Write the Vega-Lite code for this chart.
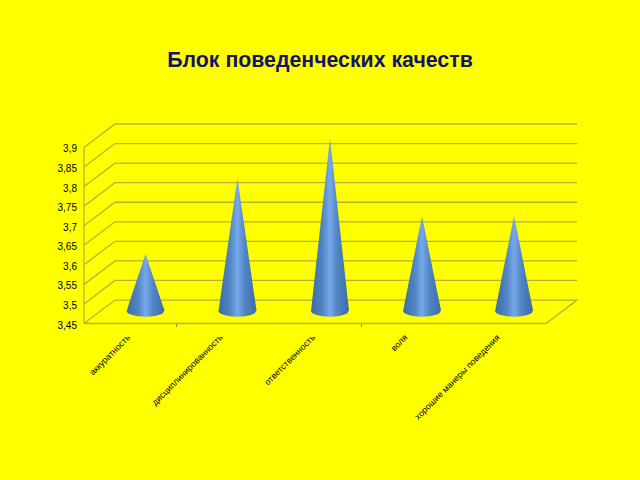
{
  "$schema": "https://vega.github.io/schema/vega-lite/v6.json",
  "width": 493,
  "height": 199.5,
  "autosize": "none",
  "padding": {"left": 84, "top": 124, "right": 63, "bottom": 156.5},
  "background": "#ffff00",
  "title": {
    "text": "Блок поведенческих качеств",
    "font": "Liberation Sans",
    "fontSize": 21.3,
    "fontWeight": "bold",
    "color": "#14146e",
    "anchor": "middle",
    "dx": -10.5,
    "offset": 50
  },
  "config": {"view": {"stroke": null}},
  "datasets": {
    "frame": [
      {"g": "f3.45", "x": 0, "y": 3.45}, {"g": "f3.45", "x": 0.335, "y": 3.51}, {"g": "f3.45", "x": 5.335, "y": 3.51}, {"g": "f3.45", "x": 5, "y": 3.45}, {"g": "f3.45", "x": 0, "y": 3.45},
      {"g": "f3.5", "x": 0, "y": 3.5}, {"g": "f3.5", "x": 0.335, "y": 3.56}, {"g": "f3.5", "x": 5.335, "y": 3.56},
      {"g": "f3.55", "x": 0, "y": 3.55}, {"g": "f3.55", "x": 0.335, "y": 3.61}, {"g": "f3.55", "x": 5.335, "y": 3.61},
      {"g": "f3.6", "x": 0, "y": 3.6}, {"g": "f3.6", "x": 0.335, "y": 3.66}, {"g": "f3.6", "x": 5.335, "y": 3.66},
      {"g": "f3.65", "x": 0, "y": 3.65}, {"g": "f3.65", "x": 0.335, "y": 3.71}, {"g": "f3.65", "x": 5.335, "y": 3.71},
      {"g": "f3.7", "x": 0, "y": 3.7}, {"g": "f3.7", "x": 0.335, "y": 3.76}, {"g": "f3.7", "x": 5.335, "y": 3.76},
      {"g": "f3.75", "x": 0, "y": 3.75}, {"g": "f3.75", "x": 0.335, "y": 3.81}, {"g": "f3.75", "x": 5.335, "y": 3.81},
      {"g": "f3.8", "x": 0, "y": 3.8}, {"g": "f3.8", "x": 0.335, "y": 3.86}, {"g": "f3.8", "x": 5.335, "y": 3.86},
      {"g": "f3.85", "x": 0, "y": 3.85}, {"g": "f3.85", "x": 0.335, "y": 3.91}, {"g": "f3.85", "x": 5.335, "y": 3.91},
      {"g": "f3.9", "x": 0, "y": 3.9}, {"g": "f3.9", "x": 0.335, "y": 3.96}, {"g": "f3.9", "x": 5.335, "y": 3.96},
      {"g": "front", "x": 0, "y": 3.45}, {"g": "front", "x": 0, "y": 3.9}
    ],
    "cones": [
      {"c": "аккуратность", "x": 0.460, "top": 3.480, "bot": 3.480},
      {"c": "аккуратность", "x": 0.481, "top": 3.4966, "bot": 3.4757},
      {"c": "аккуратность", "x": 0.522, "top": 3.5258, "bot": 3.4716},
      {"c": "аккуратность", "x": 0.584, "top": 3.5696, "bot": 3.4687},
      {"c": "аккуратность", "x": 0.666, "top": 3.628, "bot": 3.4675},
      {"c": "аккуратность", "x": 0.748, "top": 3.5696, "bot": 3.4687},
      {"c": "аккуратность", "x": 0.810, "top": 3.5258, "bot": 3.4716},
      {"c": "аккуратность", "x": 0.851, "top": 3.4966, "bot": 3.4757},
      {"c": "аккуратность", "x": 0.872, "top": 3.484, "bot": 3.484},
      {"c": "дисциплинированность", "x": 1.455, "top": 3.480, "bot": 3.480},
      {"c": "дисциплинированность", "x": 1.476, "top": 3.516, "bot": 3.4757},
      {"c": "дисциплинированность", "x": 1.517, "top": 3.584, "bot": 3.4716},
      {"c": "дисциплинированность", "x": 1.579, "top": 3.686, "bot": 3.4687},
      {"c": "дисциплинированность", "x": 1.661, "top": 3.822, "bot": 3.4675},
      {"c": "дисциплинированность", "x": 1.743, "top": 3.686, "bot": 3.4687},
      {"c": "дисциплинированность", "x": 1.805, "top": 3.584, "bot": 3.4716},
      {"c": "дисциплинированность", "x": 1.846, "top": 3.516, "bot": 3.4757},
      {"c": "дисциплинированность", "x": 1.867, "top": 3.484, "bot": 3.484},
      {"c": "ответственность", "x": 2.456, "top": 3.480, "bot": 3.480},
      {"c": "ответственность", "x": 2.477, "top": 3.5262, "bot": 3.4757},
      {"c": "ответственность", "x": 2.518, "top": 3.6146, "bot": 3.4716},
      {"c": "ответственность", "x": 2.580, "top": 3.7472, "bot": 3.4687},
      {"c": "ответственность", "x": 2.662, "top": 3.924, "bot": 3.4675},
      {"c": "ответственность", "x": 2.744, "top": 3.7472, "bot": 3.4687},
      {"c": "ответственность", "x": 2.806, "top": 3.6146, "bot": 3.4716},
      {"c": "ответственность", "x": 2.847, "top": 3.5262, "bot": 3.4757},
      {"c": "ответственность", "x": 2.868, "top": 3.484, "bot": 3.484},
      {"c": "воля", "x": 3.452, "top": 3.480, "bot": 3.480},
      {"c": "воля", "x": 3.473, "top": 3.5063, "bot": 3.4757},
      {"c": "воля", "x": 3.514, "top": 3.5549, "bot": 3.4716},
      {"c": "воля", "x": 3.576, "top": 3.6278, "bot": 3.4687},
      {"c": "воля", "x": 3.658, "top": 3.725, "bot": 3.4675},
      {"c": "воля", "x": 3.740, "top": 3.6278, "bot": 3.4687},
      {"c": "воля", "x": 3.802, "top": 3.5549, "bot": 3.4716},
      {"c": "воля", "x": 3.843, "top": 3.5063, "bot": 3.4757},
      {"c": "воля", "x": 3.864, "top": 3.484, "bot": 3.484},
      {"c": "хорошие манеры поведения", "x": 4.448, "top": 3.480, "bot": 3.480},
      {"c": "хорошие манеры поведения", "x": 4.469, "top": 3.5063, "bot": 3.4757},
      {"c": "хорошие манеры поведения", "x": 4.510, "top": 3.5549, "bot": 3.4716},
      {"c": "хорошие манеры поведения", "x": 4.572, "top": 3.6278, "bot": 3.4687},
      {"c": "хорошие манеры поведения", "x": 4.654, "top": 3.725, "bot": 3.4675},
      {"c": "хорошие манеры поведения", "x": 4.736, "top": 3.6278, "bot": 3.4687},
      {"c": "хорошие манеры поведения", "x": 4.798, "top": 3.5549, "bot": 3.4716},
      {"c": "хорошие манеры поведения", "x": 4.839, "top": 3.5063, "bot": 3.4757},
      {"c": "хорошие манеры поведения", "x": 4.860, "top": 3.484, "bot": 3.484}
    ],
    "ylabels": [
      {"x": 0, "v": 3.45, "t": "3,45"},
      {"x": 0, "v": 3.5, "t": "3,5"},
      {"x": 0, "v": 3.55, "t": "3,55"},
      {"x": 0, "v": 3.6, "t": "3,6"},
      {"x": 0, "v": 3.65, "t": "3,65"},
      {"x": 0, "v": 3.7, "t": "3,7"},
      {"x": 0, "v": 3.75, "t": "3,75"},
      {"x": 0, "v": 3.8, "t": "3,8"},
      {"x": 0, "v": 3.85, "t": "3,85"},
      {"x": 0, "v": 3.9, "t": "3,9"}
    ]
  },
  "layer": [
    {
      "data": {"name": "frame"},
      "mark": {"type": "line", "color": "#b3b33c", "strokeWidth": 1.3, "clip": false},
      "encoding": {
        "x": {
          "field": "x",
          "type": "quantitative",
          "scale": {"domain": [0, 5.335], "nice": false, "zero": false},
          "axis": {
            "title": null,
            "grid": false,
            "domain": false,
            "values": [0.5, 1, 1.5, 2.5, 3, 3.5, 4.5],
            "labelExpr": "datum.value == 0.5 ? 'аккуратность' : datum.value == 1.5 ? 'дисциплинированность' : datum.value == 2.5 ? 'ответственность' : datum.value == 3.5 ? 'воля' : datum.value == 4.5 ? 'хорошие манеры поведения' : ''",
            "labelAngle": -45,
            "labelAlign": "right",
            "labelBaseline": "middle",
            "labelFont": "Liberation Sans",
            "labelFontSize": 8.8,
            "labelColor": "#000000",
            "labelOverlap": false,
            "labelBound": false,
            "labelFlush": false,
            "labelPadding": 9,
            "labelOffset": -2,
            "tickSize": 3,
            "tickColor": "#8f8f40",
            "tickOpacity": {"condition": {"test": "datum.value == 1 || datum.value == 3", "value": 1}, "value": 0}
          }
        },
        "y": {
          "field": "y",
          "type": "quantitative",
          "scale": {"domain": [3.45, 3.96], "nice": false, "zero": false},
          "axis": null
        },
        "detail": {"field": "g"},
        "order": {"field": "none"}
      }
    },
    {
      "data": {"name": "ylabels"},
      "mark": {"type": "text", "align": "right", "baseline": "middle", "dx": -7, "dy": 2, "font": "Liberation Sans", "fontSize": 10, "color": "#000000", "clip": false},
      "encoding": {
        "x": {"field": "x", "type": "quantitative"},
        "y": {"field": "v", "type": "quantitative"},
        "text": {"field": "t"}
      }
    },
    {
      "data": {"name": "cones"},
      "mark": {
        "type": "area",
        "clip": false,
        "color": {
          "x1": 0, "y1": 0, "x2": 1, "y2": 0,
          "gradient": "linear",
          "stops": [
            {"offset": 0, "color": "#3d6ca6"},
            {"offset": 0.3, "color": "#5084c2"},
            {"offset": 0.5, "color": "#76a8ea"},
            {"offset": 0.7, "color": "#5084c2"},
            {"offset": 1, "color": "#3d6ca6"}
          ]
        }
      },
      "encoding": {
        "x": {"field": "x", "type": "quantitative"},
        "y": {"field": "top", "type": "quantitative"},
        "y2": {"field": "bot"},
        "detail": {"field": "c"}
      }
    }
  ]
}
